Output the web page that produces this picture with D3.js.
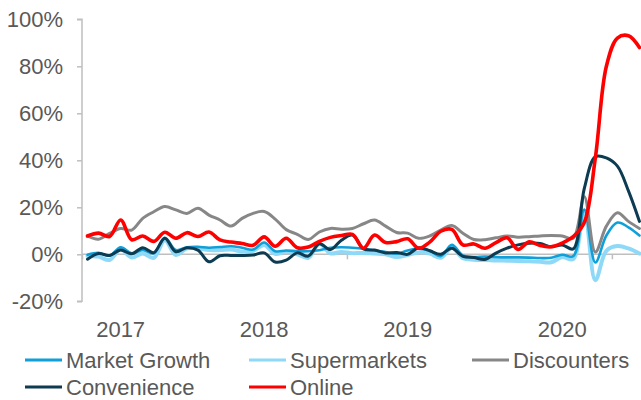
<!DOCTYPE html>
<html>
<head>
<meta charset="utf-8">
<script src="https://cdn.jsdelivr.net/npm/d3@7"></script>
<style>
  html, body { margin: 0; padding: 0; background: #ffffff; }
  svg { display: block; }
  text { font-family: "Liberation Sans", Arial, sans-serif; fill: #595959; }
</style>
</head>
<body>
<svg id="chart" width="641" height="400"></svg>
<script>
// Year-on-year growth by channel, 4-weekly periods from late 2016 to mid 2020
const periods = d3.range(51);

const marketGrowth = [-0.2, 0.6, -0.6, 3, 0.4, 1.8, 0.4, 7, 1.8, 3, 3.2, 2.8, 3.1, 3.4, 2.8, 2,
  5, 1.3, 1.6, 1.3, 1.3, 1.7, 2.8, 3, 2.8, 2.4, 1.6, 1, 0.3, 1.6, 2.4, 1.5, -0.8, 4, -0.5, -1.2,
  -1, -1.2, -1.3, -1.3, -1.4, -1.6, -1.5, -0.2, -0.8, 19, -3.5, 8, 13.5, 11.5, 8];

const supermarkets = [-0.7, -1, -2.4, 2, -1.4, 0.3, -1.5, 6, -0.3, 2.5, 2.5, 1.8, 1.8, 2, 1.2, 1.5,
  4, 0.2, 1.1, 0, -1.5, 4.5, 0.4, 1, 0.5, 0.6, 0.3, 0, -1.2, -0.3, 0.8, 0.3, -1.5, 2.8, -1.7, -2.3,
  -2.4, -2.6, -2.7, -2.8, -3, -3.2, -3.4, -1.2, -2, 18.5, -11, 1.5, 3.5, 2.5, 0.3];

const discounters = [7.8, 6.4, 8.9, 11, 10.3, 15.3, 18.1, 20.3, 18.9, 17.4, 19.6, 16.7, 14.6, 12, 15.3, 17.4,
  18.2, 15, 10.5, 8.5, 6.3, 9.5, 11, 10.7, 11, 13, 14.6, 12, 9.3, 9, 6.8, 7.8, 10.3, 12.3, 9, 6.3,
  6.2, 7, 7.8, 7.3, 7.5, 7.8, 8, 7.8, 6.8, 24.5, 1, 12, 17.7, 14, 11];

const convenience = [-2.1, 0.3, -0.5, 1.8, 0.2, 2.8, 0.7, 6.8, 1.1, 2.8, 1.8, -3.2, -0.6, -0.5, -0.5, -0.3,
  0.6, -3.3, -2.5, 0.6, -0.8, 4.5, 2, 6, 8.2, 2.3, 1.8, 0.6, 0.8, 0, 2.8, 1.5, 0, 2.6, -0.9, -1.4,
  -2.2, 0.5, 2.6, 4, 4.7, 4.6, 3.2, 4, 2.3, 28, 41.5, 41, 37.5, 27, 14];

const online = [7.8, 9, 7.6, 14.6, 6.2, 7.8, 5.5, 9.4, 6.8, 9.2, 7.6, 9.5, 6.1, 5.2, 4.6, 3.8,
  7.4, 3.4, 6.8, 2.8, 3.1, 5.5, 7.2, 8, 8.5, 2.6, 8.2, 5, 5.4, 6.6, 2.6, 5.2, 9.8, 10.6, 4, 4.4,
  2.6, 5, 7, 2.1, 5.3, 3.7, 3.2, 4.8, 7.5, 13.5, 41, 80, 92, 93, 88];

// Year labels and the period each one sits under
const yearLabels = ["2017", "2018", "2019", "2020"];
const yearPeriods = [3, 16, 29, 43];

const yTicks = [-20, 0, 20, 40, 60, 80, 100];
const xTickPeriods = [-0.5, 23.5, 47.5];

const seriesNames = ["Market Growth", "Supermarkets", "Discounters", "Convenience", "Online"];
const seriesColors = ["#0FA0DA", "#8ED9F8", "#878787", "#0C3B52", "#FF0000"];
const seriesWidths = [2.6, 4, 3, 3, 3.6];
const seriesValues = [marketGrowth, supermarkets, discounters, convenience, online];
// paint order: lighter supermarkets line underneath the market line
const drawOrder = [1, 0, 2, 3, 4];

const svg = d3.select("#chart");

const x = d3.scaleLinear().domain([-0.5, 50.5]).range([82, 645]);
const y = d3.scaleLinear().domain([-20, 100]).range([301.3, 19.3]);

const axisColor = "#BFBFBF";

// y axis
const yAxis = svg.append("g").attr("transform", "translate(82,0)")
  .call(d3.axisLeft(y).tickValues(yTicks).tickSize(5).tickPadding(14)
    .tickFormat(d => d + "%"));
yAxis.select(".domain").attr("stroke", axisColor).attr("stroke-width", 1.5)
  .attr("d", `M-5,${y(100)}H0V${y(-20)}H-5`);
yAxis.selectAll(".tick line").attr("stroke", axisColor).attr("stroke-width", 1.5);
yAxis.selectAll(".tick text").attr("font-size", 22).attr("fill", "#595959")
  .attr("font-family", "'Liberation Sans', Arial, sans-serif");

// zero line with period ticks
const xAxis = svg.append("g").attr("transform", `translate(0,${y(0)})`)
  .call(d3.axisBottom(x).tickValues(xTickPeriods).tickSize(5).tickFormat(""));
xAxis.select(".domain").attr("stroke", axisColor).attr("stroke-width", 1.5)
  .attr("d", `M${x(-0.5)},0H${x(50.5)}`);
xAxis.selectAll(".tick line").attr("stroke", axisColor).attr("stroke-width", 1.5);

// year labels
svg.append("g").selectAll("text").data(yearLabels).join("text")
  .attr("x", (d, i) => x(yearPeriods[i]))
  .attr("y", 329)
  .attr("dy", "0.35em")
  .attr("text-anchor", "middle")
  .attr("font-size", 22)
  .text(d => d);

// series lines
const line = d3.line()
  .x((d, i) => x(periods[i]))
  .y(d => y(d))
  .curve(d3.curveCatmullRom.alpha(0.5));

svg.append("g").selectAll("path").data(drawOrder).join("path")
  .attr("fill", "none")
  .attr("stroke", k => seriesColors[k])
  .attr("stroke-width", k => seriesWidths[k])
  .attr("stroke-linejoin", "round")
  .attr("stroke-linecap", "round")
  .attr("d", k => line(seriesValues[k]));

// legend
const legendPos = [[25, 360], [249, 360], [472, 360], [25, 387], [249, 387]];
const legend = svg.append("g").selectAll("g").data(seriesNames).join("g")
  .attr("transform", (d, i) => `translate(${legendPos[i][0]},${legendPos[i][1]})`);
legend.append("line")
  .attr("x1", 0).attr("x2", 37).attr("y1", 0).attr("y2", 0)
  .attr("stroke", (d, i) => seriesColors[i])
  .attr("stroke-width", 3);
legend.append("text")
  .attr("x", 41).attr("y", 0).attr("dy", "0.35em")
  .attr("font-size", 22)
  .text(d => d);
</script>
</body>
</html>
